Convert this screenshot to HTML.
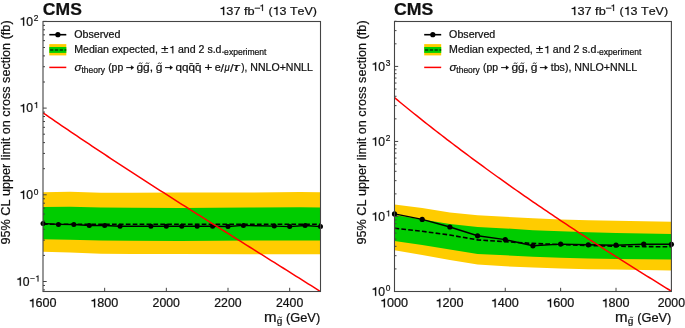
<!DOCTYPE html>
<html><head><meta charset="utf-8"><style>
html,body{margin:0;padding:0;background:#fff;}
body{width:685px;height:328px;overflow:hidden;}
svg{display:block;will-change:transform;font-family:"Liberation Sans", sans-serif;font-kerning:none;}
</style></head><body>
<svg width="685" height="328" viewBox="0 0 685 328">
<rect width="685" height="328" fill="#fff"/>
<polygon points="43.00,192.20 70.00,191.80 101.00,192.80 132.00,192.80 180.00,192.60 250.00,192.50 300.00,192.10 320.50,192.30 320.50,254.30 300.00,254.30 250.00,254.30 180.00,254.00 132.00,254.10 101.00,253.80 70.00,252.60 43.00,251.70" fill="#ffcc00"/>
<polygon points="43.00,206.90 70.00,206.70 101.00,207.50 132.00,207.70 180.00,207.90 250.00,207.40 300.00,207.20 320.50,207.40 320.50,240.50 300.00,240.50 250.00,240.50 180.00,240.90 132.00,240.80 101.00,240.40 70.00,239.80 43.00,239.30" fill="#00cc00"/>
<line x1="43" y1="224.30" x2="320.5" y2="224.30" stroke="#000" stroke-width="1.6" stroke-dasharray="4.7 2.2"/>
<polyline points="43.00,223.50 58.42,224.40 73.83,224.50 89.25,225.50 104.67,225.50 120.08,226.20 135.50,226.20 150.92,226.20 166.33,226.20 181.75,226.20 197.17,226.20 212.58,226.20 228.00,226.50 243.42,225.40 258.83,225.80 274.25,226.10 289.67,226.60 305.08,225.50 320.50,226.60" fill="none" stroke="#000" stroke-width="1.45" stroke-linejoin="round"/>
<circle cx="43.00" cy="223.50" r="2.5" fill="#000"/>
<circle cx="58.42" cy="224.40" r="2.5" fill="#000"/>
<circle cx="73.83" cy="224.50" r="2.5" fill="#000"/>
<circle cx="89.25" cy="225.50" r="2.5" fill="#000"/>
<circle cx="104.67" cy="225.50" r="2.5" fill="#000"/>
<circle cx="120.08" cy="226.20" r="2.5" fill="#000"/>
<circle cx="150.92" cy="226.20" r="2.5" fill="#000"/>
<circle cx="166.33" cy="226.20" r="2.5" fill="#000"/>
<circle cx="181.75" cy="226.20" r="2.5" fill="#000"/>
<circle cx="197.17" cy="226.20" r="2.5" fill="#000"/>
<circle cx="212.58" cy="226.20" r="2.5" fill="#000"/>
<circle cx="228.00" cy="226.50" r="2.5" fill="#000"/>
<circle cx="243.42" cy="225.40" r="2.5" fill="#000"/>
<circle cx="274.25" cy="226.10" r="2.5" fill="#000"/>
<circle cx="289.67" cy="226.60" r="2.5" fill="#000"/>
<circle cx="305.08" cy="225.50" r="2.5" fill="#000"/>
<circle cx="320.50" cy="226.60" r="2.5" fill="#000"/>
<clipPath id="cl"><rect x="43" y="21.5" width="277.5" height="270"/></clipPath>
<g clip-path="url(#cl)"><polyline points="43.00,112.80 46.08,114.93 49.17,117.06 52.25,119.18 55.33,121.30 58.42,123.41 61.50,125.52 64.58,127.62 67.67,129.71 70.75,131.80 73.83,133.89 76.92,135.97 80.00,138.04 83.08,140.11 86.17,142.18 89.25,144.24 92.33,146.29 95.42,148.34 98.50,150.39 101.58,152.43 104.67,154.47 107.75,156.50 110.83,158.53 113.92,160.56 117.00,162.58 120.08,164.60 123.17,166.61 126.25,168.62 129.33,170.63 132.42,172.63 135.50,174.63 138.58,176.63 141.67,178.62 144.75,180.61 147.83,182.60 150.92,184.58 154.00,186.56 157.08,188.54 160.17,190.51 163.25,192.49 166.33,194.46 169.42,196.43 172.50,198.39 175.58,200.35 178.67,202.31 181.75,204.27 184.83,206.23 187.92,208.18 191.00,210.14 194.08,212.09 197.17,214.04 200.25,215.98 203.33,217.93 206.42,219.87 209.50,221.82 212.58,223.76 215.67,225.70 218.75,227.64 221.83,229.58 224.92,231.51 228.00,233.45 231.08,235.39 234.17,237.32 237.25,239.26 240.33,241.19 243.42,243.12 246.50,245.06 249.58,246.99 252.67,248.92 255.75,250.86 258.83,252.79 261.92,254.72 265.00,256.65 268.08,258.59 271.17,260.52 274.25,262.46 277.33,264.39 280.42,266.33 283.50,268.26 286.58,270.20 289.67,272.14 292.75,274.07 295.83,276.01 298.92,277.95 302.00,279.90 305.08,281.84 308.17,283.78 311.25,285.73 314.33,287.68 317.42,289.63 320.50,291.58" fill="none" stroke="#ff0000" stroke-width="1.5"/></g>
<polygon points="394.50,204.50 422.19,207.90 449.88,212.40 477.57,215.30 505.26,216.80 532.95,218.20 560.64,219.60 588.33,220.30 616.02,220.80 643.71,221.30 671.40,221.70 671.40,270.40 643.71,269.90 616.02,269.60 588.33,269.20 560.64,268.50 532.95,267.50 505.26,266.30 477.57,264.40 449.88,260.00 422.19,255.10 394.50,250.20" fill="#ffcc00"/>
<polygon points="394.50,215.10 422.19,219.40 449.88,224.00 477.57,227.00 505.26,228.40 532.95,230.20 560.64,231.30 588.33,232.20 616.02,232.90 643.71,233.50 671.40,234.00 671.40,259.60 643.71,259.30 616.02,259.00 588.33,258.40 560.64,257.80 532.95,256.80 505.26,255.30 477.57,253.90 449.88,249.60 422.19,245.00 394.50,241.10" fill="#00cc00"/>
<polyline points="394.50,228.20 422.19,231.30 449.88,235.00 477.57,239.90 505.26,241.70 532.95,243.40 560.64,244.60 588.33,245.60 616.02,246.20 643.71,246.60 671.40,246.80" fill="none" stroke="#000" stroke-width="1.6" stroke-dasharray="4.7 2.2"/>
<polyline points="394.50,213.90 422.19,219.40 449.88,227.00 477.57,235.80 505.26,239.60 532.95,245.80 560.64,244.10 588.33,244.80 616.02,245.20 643.71,244.10 671.40,244.30" fill="none" stroke="#000" stroke-width="1.45" stroke-linejoin="round"/>
<circle cx="394.50" cy="213.90" r="2.6" fill="#000"/>
<circle cx="422.19" cy="219.40" r="2.6" fill="#000"/>
<circle cx="449.88" cy="227.00" r="2.6" fill="#000"/>
<circle cx="477.57" cy="235.80" r="2.6" fill="#000"/>
<circle cx="505.26" cy="239.60" r="2.6" fill="#000"/>
<circle cx="532.95" cy="245.80" r="2.6" fill="#000"/>
<circle cx="560.64" cy="244.10" r="2.6" fill="#000"/>
<circle cx="588.33" cy="244.80" r="2.6" fill="#000"/>
<circle cx="616.02" cy="245.20" r="2.6" fill="#000"/>
<circle cx="643.71" cy="244.10" r="2.6" fill="#000"/>
<circle cx="671.40" cy="244.30" r="2.6" fill="#000"/>
<clipPath id="cr"><rect x="394.5" y="21.5" width="276.9" height="270"/></clipPath>
<g clip-path="url(#cr)"><polyline points="394.50,97.66 397.27,99.94 400.04,102.22 402.81,104.49 405.58,106.75 408.35,109.00 411.11,111.23 413.88,113.46 416.65,115.69 419.42,117.90 422.19,120.10 424.96,122.30 427.73,124.48 430.50,126.66 433.27,128.83 436.03,130.99 438.80,133.14 441.57,135.28 444.34,137.42 447.11,139.54 449.88,141.66 452.65,143.77 455.42,145.87 458.19,147.97 460.96,150.05 463.73,152.13 466.49,154.20 469.26,156.26 472.03,158.32 474.80,160.37 477.57,162.41 480.34,164.44 483.11,166.47 485.88,168.49 488.65,170.50 491.41,172.50 494.18,174.50 496.95,176.49 499.72,178.47 502.49,180.45 505.26,182.42 508.03,184.38 510.80,186.34 513.57,188.29 516.34,190.24 519.11,192.17 521.87,194.11 524.64,196.03 527.41,197.95 530.18,199.86 532.95,201.77 535.72,203.67 538.49,205.57 541.26,207.46 544.03,209.34 546.79,211.22 549.56,213.10 552.33,214.96 555.10,216.83 557.87,218.68 560.64,220.53 563.41,222.38 566.18,224.22 568.95,226.06 571.72,227.89 574.48,229.72 577.25,231.54 580.02,233.36 582.79,235.17 585.56,236.98 588.33,238.79 591.10,240.59 593.87,242.38 596.64,244.17 599.41,245.96 602.17,247.74 604.94,249.52 607.71,251.30 610.48,253.07 613.25,254.83 616.02,256.60 618.79,258.36 621.56,260.11 624.33,261.87 627.10,263.62 629.87,265.36 632.63,267.11 635.40,268.84 638.17,270.58 640.94,272.32 643.71,274.05 646.48,275.77 649.25,277.50 652.02,279.22 654.79,280.94 657.56,282.66 660.32,284.37 663.09,286.08 665.86,287.79 668.63,289.50 671.40,291.20" fill="none" stroke="#ff0000" stroke-width="1.5"/></g>
<rect x="43.00" y="21.50" width="277.50" height="270.00" fill="none" stroke="#444" stroke-width="1.1"/>
<rect x="394.50" y="21.50" width="276.90" height="270.00" fill="none" stroke="#444" stroke-width="1.1"/>
<line x1="104.67" y1="291.50" x2="104.67" y2="287.80" stroke="#444" stroke-width="1"/>
<line x1="166.33" y1="291.50" x2="166.33" y2="287.80" stroke="#444" stroke-width="1"/>
<line x1="228.00" y1="291.50" x2="228.00" y2="287.80" stroke="#444" stroke-width="1"/>
<line x1="289.67" y1="291.50" x2="289.67" y2="287.80" stroke="#444" stroke-width="1"/>
<line x1="449.88" y1="291.50" x2="449.88" y2="287.80" stroke="#444" stroke-width="1"/>
<line x1="505.26" y1="291.50" x2="505.26" y2="287.80" stroke="#444" stroke-width="1"/>
<line x1="560.64" y1="291.50" x2="560.64" y2="287.80" stroke="#444" stroke-width="1"/>
<line x1="616.02" y1="291.50" x2="616.02" y2="287.80" stroke="#444" stroke-width="1"/>
<line x1="43.00" y1="289.90" x2="45.00" y2="289.90" stroke="#444" stroke-width="1"/>
<line x1="43.00" y1="285.47" x2="45.00" y2="285.47" stroke="#444" stroke-width="1"/>
<line x1="43.00" y1="281.50" x2="46.70" y2="281.50" stroke="#444" stroke-width="1"/>
<line x1="43.00" y1="255.40" x2="45.00" y2="255.40" stroke="#444" stroke-width="1"/>
<line x1="43.00" y1="240.13" x2="45.00" y2="240.13" stroke="#444" stroke-width="1"/>
<line x1="43.00" y1="229.30" x2="45.00" y2="229.30" stroke="#444" stroke-width="1"/>
<line x1="43.00" y1="220.90" x2="45.00" y2="220.90" stroke="#444" stroke-width="1"/>
<line x1="43.00" y1="214.03" x2="45.00" y2="214.03" stroke="#444" stroke-width="1"/>
<line x1="43.00" y1="208.23" x2="45.00" y2="208.23" stroke="#444" stroke-width="1"/>
<line x1="43.00" y1="203.20" x2="45.00" y2="203.20" stroke="#444" stroke-width="1"/>
<line x1="43.00" y1="198.77" x2="45.00" y2="198.77" stroke="#444" stroke-width="1"/>
<line x1="43.00" y1="194.80" x2="46.70" y2="194.80" stroke="#444" stroke-width="1"/>
<line x1="43.00" y1="168.70" x2="45.00" y2="168.70" stroke="#444" stroke-width="1"/>
<line x1="43.00" y1="153.43" x2="45.00" y2="153.43" stroke="#444" stroke-width="1"/>
<line x1="43.00" y1="142.60" x2="45.00" y2="142.60" stroke="#444" stroke-width="1"/>
<line x1="43.00" y1="134.20" x2="45.00" y2="134.20" stroke="#444" stroke-width="1"/>
<line x1="43.00" y1="127.33" x2="45.00" y2="127.33" stroke="#444" stroke-width="1"/>
<line x1="43.00" y1="121.53" x2="45.00" y2="121.53" stroke="#444" stroke-width="1"/>
<line x1="43.00" y1="116.50" x2="45.00" y2="116.50" stroke="#444" stroke-width="1"/>
<line x1="43.00" y1="112.07" x2="45.00" y2="112.07" stroke="#444" stroke-width="1"/>
<line x1="43.00" y1="108.10" x2="46.70" y2="108.10" stroke="#444" stroke-width="1"/>
<line x1="43.00" y1="82.00" x2="45.00" y2="82.00" stroke="#444" stroke-width="1"/>
<line x1="43.00" y1="66.73" x2="45.00" y2="66.73" stroke="#444" stroke-width="1"/>
<line x1="43.00" y1="55.90" x2="45.00" y2="55.90" stroke="#444" stroke-width="1"/>
<line x1="43.00" y1="47.50" x2="45.00" y2="47.50" stroke="#444" stroke-width="1"/>
<line x1="43.00" y1="40.63" x2="45.00" y2="40.63" stroke="#444" stroke-width="1"/>
<line x1="43.00" y1="34.83" x2="45.00" y2="34.83" stroke="#444" stroke-width="1"/>
<line x1="43.00" y1="29.80" x2="45.00" y2="29.80" stroke="#444" stroke-width="1"/>
<line x1="43.00" y1="25.37" x2="45.00" y2="25.37" stroke="#444" stroke-width="1"/>
<line x1="43.00" y1="21.40" x2="46.70" y2="21.40" stroke="#444" stroke-width="1"/>
<line x1="394.50" y1="291.50" x2="398.20" y2="291.50" stroke="#444" stroke-width="1"/>
<line x1="394.50" y1="268.91" x2="396.50" y2="268.91" stroke="#444" stroke-width="1"/>
<line x1="394.50" y1="255.70" x2="396.50" y2="255.70" stroke="#444" stroke-width="1"/>
<line x1="394.50" y1="246.33" x2="396.50" y2="246.33" stroke="#444" stroke-width="1"/>
<line x1="394.50" y1="239.06" x2="396.50" y2="239.06" stroke="#444" stroke-width="1"/>
<line x1="394.50" y1="233.12" x2="396.50" y2="233.12" stroke="#444" stroke-width="1"/>
<line x1="394.50" y1="228.09" x2="396.50" y2="228.09" stroke="#444" stroke-width="1"/>
<line x1="394.50" y1="223.74" x2="396.50" y2="223.74" stroke="#444" stroke-width="1"/>
<line x1="394.50" y1="219.90" x2="396.50" y2="219.90" stroke="#444" stroke-width="1"/>
<line x1="394.50" y1="216.47" x2="398.20" y2="216.47" stroke="#444" stroke-width="1"/>
<line x1="394.50" y1="193.88" x2="396.50" y2="193.88" stroke="#444" stroke-width="1"/>
<line x1="394.50" y1="180.67" x2="396.50" y2="180.67" stroke="#444" stroke-width="1"/>
<line x1="394.50" y1="171.30" x2="396.50" y2="171.30" stroke="#444" stroke-width="1"/>
<line x1="394.50" y1="164.03" x2="396.50" y2="164.03" stroke="#444" stroke-width="1"/>
<line x1="394.50" y1="158.09" x2="396.50" y2="158.09" stroke="#444" stroke-width="1"/>
<line x1="394.50" y1="153.06" x2="396.50" y2="153.06" stroke="#444" stroke-width="1"/>
<line x1="394.50" y1="148.71" x2="396.50" y2="148.71" stroke="#444" stroke-width="1"/>
<line x1="394.50" y1="144.87" x2="396.50" y2="144.87" stroke="#444" stroke-width="1"/>
<line x1="394.50" y1="141.44" x2="398.20" y2="141.44" stroke="#444" stroke-width="1"/>
<line x1="394.50" y1="118.85" x2="396.50" y2="118.85" stroke="#444" stroke-width="1"/>
<line x1="394.50" y1="105.64" x2="396.50" y2="105.64" stroke="#444" stroke-width="1"/>
<line x1="394.50" y1="96.27" x2="396.50" y2="96.27" stroke="#444" stroke-width="1"/>
<line x1="394.50" y1="89.00" x2="396.50" y2="89.00" stroke="#444" stroke-width="1"/>
<line x1="394.50" y1="83.06" x2="396.50" y2="83.06" stroke="#444" stroke-width="1"/>
<line x1="394.50" y1="78.03" x2="396.50" y2="78.03" stroke="#444" stroke-width="1"/>
<line x1="394.50" y1="73.68" x2="396.50" y2="73.68" stroke="#444" stroke-width="1"/>
<line x1="394.50" y1="69.84" x2="396.50" y2="69.84" stroke="#444" stroke-width="1"/>
<line x1="394.50" y1="66.41" x2="398.20" y2="66.41" stroke="#444" stroke-width="1"/>
<line x1="394.50" y1="43.82" x2="396.50" y2="43.82" stroke="#444" stroke-width="1"/>
<line x1="394.50" y1="30.61" x2="396.50" y2="30.61" stroke="#444" stroke-width="1"/>
<line x1="394.50" y1="21.24" x2="396.50" y2="21.24" stroke="#444" stroke-width="1"/>
<line x1="49.30" y1="34.7" x2="66.30" y2="34.7" stroke="#000" stroke-width="1.6"/>
<circle cx="57.90" cy="34.7" r="2.6" fill="#000"/>
<rect x="49.30" y="44.1" width="17" height="11.3" fill="#ffcc00"/>
<rect x="49.30" y="47.0" width="17" height="5.9" fill="#00cc00"/>
<line x1="50.10" y1="50.0" x2="66.30" y2="50.0" stroke="#000" stroke-width="1.1" stroke-dasharray="3.2 1.6"/>
<line x1="49.30" y1="67.4" x2="66.30" y2="67.4" stroke="#ff0000" stroke-width="1.5"/>
<line x1="424.20" y1="34.7" x2="441.20" y2="34.7" stroke="#000" stroke-width="1.6"/>
<circle cx="432.80" cy="34.7" r="2.6" fill="#000"/>
<rect x="424.20" y="44.1" width="17" height="11.3" fill="#ffcc00"/>
<rect x="424.20" y="47.0" width="17" height="5.9" fill="#00cc00"/>
<line x1="425.00" y1="50.0" x2="441.20" y2="50.0" stroke="#000" stroke-width="1.1" stroke-dasharray="3.2 1.6"/>
<line x1="424.20" y1="67.4" x2="441.20" y2="67.4" stroke="#ff0000" stroke-width="1.5"/>
<g fill="#111" stroke="#111" stroke-width="0.22"><path transform="translate(28.54,307.30) scale(12.611,-12.000)" d="M0.392,0 L0.392,0.709 L0.322,0.709 C0.302,0.640 0.232,0.592 0.108,0.584 L0.108,0.514 L0.300,0.514 L0.300,0 Z" stroke-width="0.22" vector-effect="non-scaling-stroke"/><text x="35.55" y="307.30" font-size="12.00" textLength="21.04" lengthAdjust="spacingAndGlyphs">600</text><path transform="translate(90.20,307.30) scale(12.611,-12.000)" d="M0.392,0 L0.392,0.709 L0.322,0.709 C0.302,0.640 0.232,0.592 0.108,0.584 L0.108,0.514 L0.300,0.514 L0.300,0 Z" stroke-width="0.22" vector-effect="non-scaling-stroke"/><text x="97.22" y="307.30" font-size="12.00" textLength="21.04" lengthAdjust="spacingAndGlyphs">800</text><text x="152.62" y="307.30" font-size="12.00" textLength="27.30" lengthAdjust="spacingAndGlyphs">2000</text><text x="214.28" y="307.30" font-size="12.00" textLength="27.30" lengthAdjust="spacingAndGlyphs">2200</text><text x="275.95" y="307.30" font-size="12.00" textLength="27.30" lengthAdjust="spacingAndGlyphs">2400</text><path transform="translate(380.04,307.30) scale(12.611,-12.000)" d="M0.392,0 L0.392,0.709 L0.322,0.709 C0.302,0.640 0.232,0.592 0.108,0.584 L0.108,0.514 L0.300,0.514 L0.300,0 Z" stroke-width="0.22" vector-effect="non-scaling-stroke"/><text x="387.05" y="307.30" font-size="12.00" textLength="21.04" lengthAdjust="spacingAndGlyphs">000</text><path transform="translate(435.42,307.30) scale(12.611,-12.000)" d="M0.392,0 L0.392,0.709 L0.322,0.709 C0.302,0.640 0.232,0.592 0.108,0.584 L0.108,0.514 L0.300,0.514 L0.300,0 Z" stroke-width="0.22" vector-effect="non-scaling-stroke"/><text x="442.43" y="307.30" font-size="12.00" textLength="21.04" lengthAdjust="spacingAndGlyphs">200</text><path transform="translate(490.80,307.30) scale(12.611,-12.000)" d="M0.392,0 L0.392,0.709 L0.322,0.709 C0.302,0.640 0.232,0.592 0.108,0.584 L0.108,0.514 L0.300,0.514 L0.300,0 Z" stroke-width="0.22" vector-effect="non-scaling-stroke"/><text x="497.81" y="307.30" font-size="12.00" textLength="21.04" lengthAdjust="spacingAndGlyphs">400</text><path transform="translate(546.18,307.30) scale(12.611,-12.000)" d="M0.392,0 L0.392,0.709 L0.322,0.709 C0.302,0.640 0.232,0.592 0.108,0.584 L0.108,0.514 L0.300,0.514 L0.300,0 Z" stroke-width="0.22" vector-effect="non-scaling-stroke"/><text x="553.19" y="307.30" font-size="12.00" textLength="21.04" lengthAdjust="spacingAndGlyphs">600</text><path transform="translate(601.56,307.30) scale(12.611,-12.000)" d="M0.392,0 L0.392,0.709 L0.322,0.709 C0.302,0.640 0.232,0.592 0.108,0.584 L0.108,0.514 L0.300,0.514 L0.300,0 Z" stroke-width="0.22" vector-effect="non-scaling-stroke"/><text x="608.57" y="307.30" font-size="12.00" textLength="21.04" lengthAdjust="spacingAndGlyphs">800</text><text x="657.68" y="307.30" font-size="12.00" textLength="27.30" lengthAdjust="spacingAndGlyphs">2000</text><path transform="translate(19.38,25.70) scale(12.225,-12.000)" d="M0.392,0 L0.392,0.709 L0.322,0.709 C0.302,0.640 0.232,0.592 0.108,0.584 L0.108,0.514 L0.300,0.514 L0.300,0 Z" stroke-width="0.22" vector-effect="non-scaling-stroke"/><text x="26.18" y="25.70" font-size="12.00" textLength="6.80" lengthAdjust="spacingAndGlyphs">0</text><text x="33.80" y="21.30" font-size="8.40">2</text><path transform="translate(19.38,112.40) scale(12.225,-12.000)" d="M0.392,0 L0.392,0.709 L0.322,0.709 C0.302,0.640 0.232,0.592 0.108,0.584 L0.108,0.514 L0.300,0.514 L0.300,0 Z" stroke-width="0.22" vector-effect="non-scaling-stroke"/><text x="26.18" y="112.40" font-size="12.00" textLength="6.80" lengthAdjust="spacingAndGlyphs">0</text><path transform="translate(33.80,108.00) scale(8.400,-8.400)" d="M0.392,0 L0.392,0.709 L0.322,0.709 C0.302,0.640 0.232,0.592 0.108,0.584 L0.108,0.514 L0.300,0.514 L0.300,0 Z" stroke-width="0.22" vector-effect="non-scaling-stroke"/><path transform="translate(19.38,199.10) scale(12.225,-12.000)" d="M0.392,0 L0.392,0.709 L0.322,0.709 C0.302,0.640 0.232,0.592 0.108,0.584 L0.108,0.514 L0.300,0.514 L0.300,0 Z" stroke-width="0.22" vector-effect="non-scaling-stroke"/><text x="26.18" y="199.10" font-size="12.00" textLength="6.80" lengthAdjust="spacingAndGlyphs">0</text><text x="33.80" y="194.70" font-size="8.40">0</text><path transform="translate(16.08,285.80) scale(12.225,-12.000)" d="M0.392,0 L0.392,0.709 L0.322,0.709 C0.302,0.640 0.232,0.592 0.108,0.584 L0.108,0.514 L0.300,0.514 L0.300,0 Z" stroke-width="0.22" vector-effect="non-scaling-stroke"/><text x="22.88" y="285.80" font-size="12.00" textLength="6.80" lengthAdjust="spacingAndGlyphs">0</text><text x="30.20" y="281.40" font-size="8.40">−</text><path transform="translate(35.11,281.40) scale(8.400,-8.400)" d="M0.392,0 L0.392,0.709 L0.322,0.709 C0.302,0.640 0.232,0.592 0.108,0.584 L0.108,0.514 L0.300,0.514 L0.300,0 Z" stroke-width="0.22" vector-effect="non-scaling-stroke"/><path transform="translate(371.38,70.71) scale(12.225,-12.000)" d="M0.392,0 L0.392,0.709 L0.322,0.709 C0.302,0.640 0.232,0.592 0.108,0.584 L0.108,0.514 L0.300,0.514 L0.300,0 Z" stroke-width="0.22" vector-effect="non-scaling-stroke"/><text x="378.18" y="70.71" font-size="12.00" textLength="6.80" lengthAdjust="spacingAndGlyphs">0</text><text x="385.80" y="66.31" font-size="8.40">3</text><path transform="translate(371.38,145.74) scale(12.225,-12.000)" d="M0.392,0 L0.392,0.709 L0.322,0.709 C0.302,0.640 0.232,0.592 0.108,0.584 L0.108,0.514 L0.300,0.514 L0.300,0 Z" stroke-width="0.22" vector-effect="non-scaling-stroke"/><text x="378.18" y="145.74" font-size="12.00" textLength="6.80" lengthAdjust="spacingAndGlyphs">0</text><text x="385.80" y="141.34" font-size="8.40">2</text><path transform="translate(371.38,220.77) scale(12.225,-12.000)" d="M0.392,0 L0.392,0.709 L0.322,0.709 C0.302,0.640 0.232,0.592 0.108,0.584 L0.108,0.514 L0.300,0.514 L0.300,0 Z" stroke-width="0.22" vector-effect="non-scaling-stroke"/><text x="378.18" y="220.77" font-size="12.00" textLength="6.80" lengthAdjust="spacingAndGlyphs">0</text><path transform="translate(385.80,216.37) scale(8.400,-8.400)" d="M0.392,0 L0.392,0.709 L0.322,0.709 C0.302,0.640 0.232,0.592 0.108,0.584 L0.108,0.514 L0.300,0.514 L0.300,0 Z" stroke-width="0.22" vector-effect="non-scaling-stroke"/><path transform="translate(371.38,295.80) scale(12.225,-12.000)" d="M0.392,0 L0.392,0.709 L0.322,0.709 C0.302,0.640 0.232,0.592 0.108,0.584 L0.108,0.514 L0.300,0.514 L0.300,0 Z" stroke-width="0.22" vector-effect="non-scaling-stroke"/><text x="378.18" y="295.80" font-size="12.00" textLength="6.80" lengthAdjust="spacingAndGlyphs">0</text><text x="385.80" y="291.40" font-size="8.40">0</text><text x="42.88" y="15.10" font-size="17.10" font-weight="bold" textLength="39.01" lengthAdjust="spacingAndGlyphs">CMS</text><text x="394.07" y="15.10" font-size="17.10" font-weight="bold" textLength="39.32" lengthAdjust="spacingAndGlyphs">CMS</text><path transform="translate(219.22,15.10) scale(12.736,-11.800)" d="M0.392,0 L0.392,0.709 L0.322,0.709 C0.302,0.640 0.232,0.592 0.108,0.584 L0.108,0.514 L0.300,0.514 L0.300,0 Z" stroke-width="0.22" vector-effect="non-scaling-stroke"/><text x="226.31" y="15.10" font-size="11.80" textLength="28.33" lengthAdjust="spacingAndGlyphs">37 fb</text><text x="254.38" y="11.30" font-size="9.00" textLength="6.13" lengthAdjust="spacingAndGlyphs">−</text><path transform="translate(259.43,10.90) scale(9.000,-9.000)" d="M0.392,0 L0.392,0.709 L0.322,0.709 C0.302,0.640 0.232,0.592 0.108,0.584 L0.108,0.514 L0.300,0.514 L0.300,0 Z" stroke-width="0.22" vector-effect="non-scaling-stroke"/><text x="268.43" y="15.10" font-size="11.80" textLength="4.16" lengthAdjust="spacingAndGlyphs">(</text><path transform="translate(272.58,15.10) scale(12.480,-11.800)" d="M0.392,0 L0.392,0.709 L0.322,0.709 C0.302,0.640 0.232,0.592 0.108,0.584 L0.108,0.514 L0.300,0.514 L0.300,0 Z" stroke-width="0.22" vector-effect="non-scaling-stroke"/><text x="279.52" y="15.10" font-size="11.80" textLength="37.45" lengthAdjust="spacingAndGlyphs">3 TeV)</text><path transform="translate(570.32,15.10) scale(12.736,-11.800)" d="M0.392,0 L0.392,0.709 L0.322,0.709 C0.302,0.640 0.232,0.592 0.108,0.584 L0.108,0.514 L0.300,0.514 L0.300,0 Z" stroke-width="0.22" vector-effect="non-scaling-stroke"/><text x="577.41" y="15.10" font-size="11.80" textLength="28.33" lengthAdjust="spacingAndGlyphs">37 fb</text><text x="605.48" y="11.30" font-size="9.00" textLength="6.13" lengthAdjust="spacingAndGlyphs">−</text><path transform="translate(610.53,10.90) scale(9.000,-9.000)" d="M0.392,0 L0.392,0.709 L0.322,0.709 C0.302,0.640 0.232,0.592 0.108,0.584 L0.108,0.514 L0.300,0.514 L0.300,0 Z" stroke-width="0.22" vector-effect="non-scaling-stroke"/><text x="619.53" y="15.10" font-size="11.80" textLength="4.16" lengthAdjust="spacingAndGlyphs">(</text><path transform="translate(623.68,15.10) scale(12.480,-11.800)" d="M0.392,0 L0.392,0.709 L0.322,0.709 C0.302,0.640 0.232,0.592 0.108,0.584 L0.108,0.514 L0.300,0.514 L0.300,0 Z" stroke-width="0.22" vector-effect="non-scaling-stroke"/><text x="630.62" y="15.10" font-size="11.80" textLength="37.45" lengthAdjust="spacingAndGlyphs">3 TeV)</text><text x="263.90" y="321.90" font-size="14.00" textLength="12.60" lengthAdjust="spacingAndGlyphs">m</text><text x="276.68" y="323.90" font-size="8.60" textLength="5.57" lengthAdjust="spacingAndGlyphs">g</text><path d="M278.80,317.75 C279.25,316.85 279.85,316.85 280.30,317.30 S281.35,317.75 281.80,316.85" fill="none" stroke="#111" stroke-width="0.95"/><text x="286.01" y="321.90" font-size="12.40" textLength="34.19" lengthAdjust="spacingAndGlyphs">(GeV)</text><text x="615.10" y="321.90" font-size="14.00" textLength="12.60" lengthAdjust="spacingAndGlyphs">m</text><text x="627.88" y="323.90" font-size="8.60" textLength="5.57" lengthAdjust="spacingAndGlyphs">g</text><path d="M630.00,317.75 C630.45,316.85 631.05,316.85 631.50,317.30 S632.55,317.75 633.00,316.85" fill="none" stroke="#111" stroke-width="0.95"/><text x="637.21" y="321.90" font-size="12.40" textLength="34.19" lengthAdjust="spacingAndGlyphs">(GeV)</text><g transform="translate(10.10,0) rotate(-90)"><text x="-244.49" y="0.00" font-size="12.60" textLength="224.08" lengthAdjust="spacingAndGlyphs">95% CL upper limit on cross section (fb)</text></g><g transform="translate(365.70,0) rotate(-90)"><text x="-244.49" y="0.00" font-size="12.60" textLength="224.08" lengthAdjust="spacingAndGlyphs">95% CL upper limit on cross section (fb)</text></g><text x="74.20" y="38.30" font-size="10.30" textLength="46.19" lengthAdjust="spacingAndGlyphs">Observed</text><text x="74.23" y="53.30" font-size="10.30" textLength="83.62" lengthAdjust="spacingAndGlyphs">Median expected,</text><text x="161.19" y="53.30" font-size="10.30" textLength="7.12" lengthAdjust="spacingAndGlyphs">±</text><path transform="translate(169.16,53.30) scale(10.583,-10.300)" d="M0.392,0 L0.392,0.709 L0.322,0.709 C0.302,0.640 0.232,0.592 0.108,0.584 L0.108,0.514 L0.300,0.514 L0.300,0 Z" stroke-width="0.22" vector-effect="non-scaling-stroke"/><text x="177.98" y="53.30" font-size="10.30" textLength="46.48" lengthAdjust="spacingAndGlyphs">and 2 s.d.</text><text x="224.14" y="55.00" font-size="8.50" textLength="42.33" lengthAdjust="spacingAndGlyphs">experiment</text><text x="74.51" y="70.60" font-size="10.30" font-style="italic" textLength="7.02" lengthAdjust="spacingAndGlyphs">σ</text><text x="81.47" y="72.70" font-size="8.40" textLength="23.44" lengthAdjust="spacingAndGlyphs">theory</text><text x="108.15" y="70.70" font-size="10.30" textLength="15.09" lengthAdjust="spacingAndGlyphs">(pp</text><line x1="126.20" y1="67.60" x2="132.80" y2="67.60" stroke="#111" stroke-width="1"/><polygon points="131.10,65.40 134.00,67.60 131.10,69.80" fill="#111"/><text x="136.50" y="70.70" font-size="10.30" textLength="16.57" lengthAdjust="spacingAndGlyphs">gg,</text><path d="M139.05,63.80 C139.54,62.60 140.20,62.60 140.70,63.20 S141.85,63.80 142.35,62.60" fill="none" stroke="#111" stroke-width="0.90"/><path d="M145.85,63.80 C146.34,62.60 147.00,62.60 147.50,63.20 S148.66,63.80 149.15,62.60" fill="none" stroke="#111" stroke-width="0.90"/><text x="155.80" y="70.70" font-size="10.30" textLength="6.68" lengthAdjust="spacingAndGlyphs">g</text><path d="M158.15,63.80 C158.65,62.60 159.31,62.60 159.80,63.20 S160.96,63.80 161.45,62.60" fill="none" stroke="#111" stroke-width="0.90"/><line x1="165.00" y1="67.60" x2="171.70" y2="67.60" stroke="#111" stroke-width="1"/><polygon points="170.00,65.40 172.90,67.60 170.00,69.80" fill="#111"/><text x="175.51" y="70.70" font-size="10.30" textLength="25.94" lengthAdjust="spacingAndGlyphs">qqqq</text><line x1="189.50" y1="63.60" x2="192.90" y2="63.60" stroke="#111" stroke-width="0.90"/><line x1="195.75" y1="63.60" x2="199.15" y2="63.60" stroke="#111" stroke-width="0.90"/><text x="204.45" y="70.70" font-size="10.30" textLength="7.81" lengthAdjust="spacingAndGlyphs">+</text><text x="214.84" y="70.70" font-size="10.30" textLength="6.04" lengthAdjust="spacingAndGlyphs">e</text><text x="220.50" y="71.90" font-size="11.60" textLength="3.50" lengthAdjust="spacingAndGlyphs">/</text><text x="224.50" y="70.70" font-size="10.30" font-style="italic" textLength="5.25" lengthAdjust="spacingAndGlyphs">μ</text><text x="229.90" y="71.90" font-size="11.60" textLength="3.50" lengthAdjust="spacingAndGlyphs">/</text><text x="233.20" y="70.70" font-size="11.20" font-style="italic" textLength="6.16" lengthAdjust="spacingAndGlyphs">τ</text><text x="241.34" y="70.70" font-size="10.30" textLength="6.05" lengthAdjust="spacingAndGlyphs">),</text><text x="250.33" y="70.70" font-size="10.30" textLength="62.52" lengthAdjust="spacingAndGlyphs">NNLO+NNLL</text><text x="449.10" y="38.30" font-size="10.30" textLength="46.19" lengthAdjust="spacingAndGlyphs">Observed</text><text x="449.13" y="53.30" font-size="10.30" textLength="83.62" lengthAdjust="spacingAndGlyphs">Median expected,</text><text x="536.09" y="53.30" font-size="10.30" textLength="7.12" lengthAdjust="spacingAndGlyphs">±</text><path transform="translate(544.06,53.30) scale(10.583,-10.300)" d="M0.392,0 L0.392,0.709 L0.322,0.709 C0.302,0.640 0.232,0.592 0.108,0.584 L0.108,0.514 L0.300,0.514 L0.300,0 Z" stroke-width="0.22" vector-effect="non-scaling-stroke"/><text x="552.88" y="53.30" font-size="10.30" textLength="46.48" lengthAdjust="spacingAndGlyphs">and 2 s.d.</text><text x="599.04" y="55.00" font-size="8.50" textLength="42.33" lengthAdjust="spacingAndGlyphs">experiment</text><text x="449.41" y="70.60" font-size="10.30" font-style="italic" textLength="7.02" lengthAdjust="spacingAndGlyphs">σ</text><text x="456.37" y="72.70" font-size="8.40" textLength="23.44" lengthAdjust="spacingAndGlyphs">theory</text><text x="483.05" y="70.70" font-size="10.30" textLength="15.09" lengthAdjust="spacingAndGlyphs">(pp</text><line x1="501.10" y1="67.60" x2="507.70" y2="67.60" stroke="#111" stroke-width="1"/><polygon points="506.00,65.40 508.90,67.60 506.00,69.80" fill="#111"/><text x="511.40" y="70.70" font-size="10.30" textLength="16.57" lengthAdjust="spacingAndGlyphs">gg,</text><path d="M513.95,63.80 C514.44,62.60 515.10,62.60 515.60,63.20 S516.75,63.80 517.25,62.60" fill="none" stroke="#111" stroke-width="0.90"/><path d="M520.75,63.80 C521.25,62.60 521.90,62.60 522.40,63.20 S523.55,63.80 524.05,62.60" fill="none" stroke="#111" stroke-width="0.90"/><text x="530.70" y="70.70" font-size="10.30" textLength="6.68" lengthAdjust="spacingAndGlyphs">g</text><path d="M533.05,63.80 C533.55,62.60 534.21,62.60 534.70,63.20 S535.86,63.80 536.35,62.60" fill="none" stroke="#111" stroke-width="0.90"/><line x1="539.90" y1="67.60" x2="546.60" y2="67.60" stroke="#111" stroke-width="1"/><polygon points="544.90,65.40 547.80,67.60 544.90,69.80" fill="#111"/><text x="550.74" y="70.70" font-size="10.30" textLength="86.41" lengthAdjust="spacingAndGlyphs">tbs), NNLO+NNLL</text></g>
</svg>
</body></html>
